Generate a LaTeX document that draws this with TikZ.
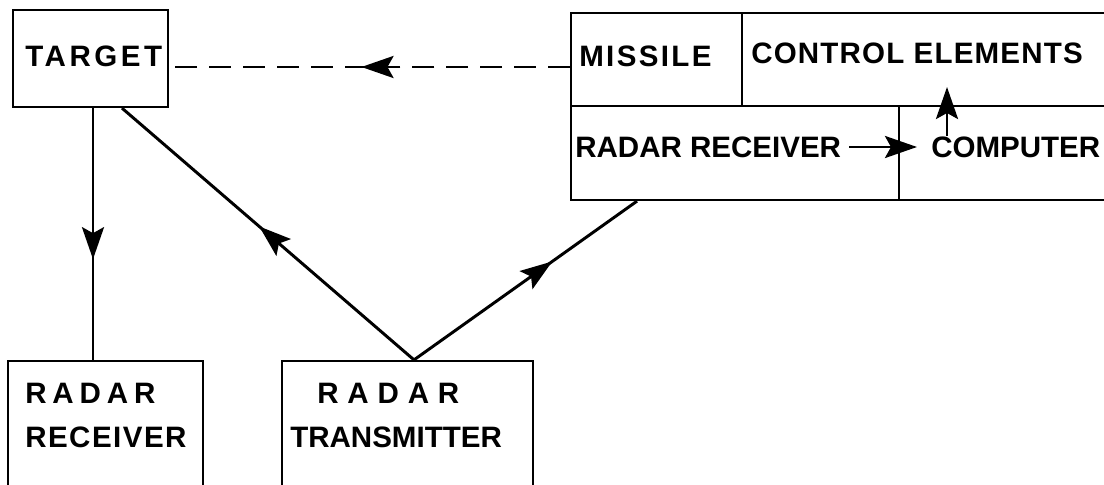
\documentclass[tikz,border=0pt]{standalone}
\usepackage{fontspec}
\setmainfont{Liberation Sans}
\usetikzlibrary{arrows.meta,decorations.markings}
\newdimen\pxu \pxu=0.025cm
\newcommand\spaced[2]{{\addfontfeature{LetterSpace=#1}#2}}

\begin{document}
\begin{tikzpicture}[x=0.025cm,y=-0.025cm,
  box/.style={draw,line width=1.6pt,inner sep=0pt},
  txt/.style={anchor=west,inner sep=0pt,font=\fontsize{21}{24}\selectfont\bfseries},
  sig/.style={line width=2.1pt},
  arr/.style={sig,-{Stealth[length=0.8cm,width=0.55cm,inset=0.15cm]}},
  midtip/.style={postaction={decorate,solid},decoration={markings,mark=at position #1 with {\arrow{Stealth[length=0.8cm,width=0.55cm,inset=0.15cm]}}}}
]
\useasboundingbox (0,0) rectangle (1104,485);
\clip (0,0) rectangle (1104,485);
% ground boxes
\node[box,minimum width=155\pxu,minimum height=97\pxu] (tgt) at (90.5,58.5) {};
\node[box,minimum width=195\pxu,minimum height=158\pxu] (rcv) at (105.5,440) {};
\node[box,minimum width=251\pxu,minimum height=158\pxu] (xmit) at (407.5,440) {};
% missile cells
\node[box,minimum width=171\pxu,minimum height=93\pxu] (msl) at (656.5,59.5) {};
\node[box,minimum width=388\pxu,minimum height=93\pxu] (ctrl) at (936,59.5) {};
\node[box,minimum width=328\pxu,minimum height=94\pxu] (mrx) at (735,153) {};
\node[box,minimum width=231\pxu,minimum height=94\pxu] (comp) at (1014.5,153) {};
% labels
\node[txt] (tgtt) at (25,56) {\spaced{12}{TARGET}};
\node[txt] (rcvt1) at (25,393) {\spaced{20}{RADAR}};
\node[txt] (rcvt2) at (25,437) {\spaced{5}{RECEIVER}};
\node[txt] (xmitt1) at (317,393) {\spaced{30}{RADAR}};
\node[txt] (xmitt2) at (290,437) {TRANSMITTER};
\node[txt] (mslt) at (579,56) {\spaced{8}{MISSILE}};
\node[txt] (ctrlt) at (751,53) {\spaced{4}{CONTROL ELEMENTS}};
\node[txt] (mrxt) at (575,147) {RADAR RECEIVER};
\node[txt] (compt) at (931,147) {COMPUTER};
% signal paths
\coordinate (vtop) at ([xshift=2.5\pxu]tgt.south);
\draw[sig,midtip=0.6] (vtop) -- (vtop |- rcv.north);
\coordinate (apex) at ([xshift=6.5\pxu]xmit.north);
\draw[sig,midtip=0.53] (apex) -- ([xshift=31.5\pxu]tgt.south);
\draw[sig,midtip=0.62] (apex) -- ([xshift=-98\pxu]mrx.south);
\coordinate (dsh) at ([yshift=-7.5\pxu]msl.west);
\draw[sig,dash pattern=on 15.6pt off 8.5pt,midtip=0.52] (dsh) -- (dsh -| tgt.east);
\draw[arr] ([xshift=8\pxu]mrxt.east) -- ([xshift=-14\pxu]compt.west);
\coordinate (ctrlin) at (947,87);
\draw[arr] ([xshift=16\pxu]compt.north west) -- (ctrlin);
\end{tikzpicture}
\end{document}
